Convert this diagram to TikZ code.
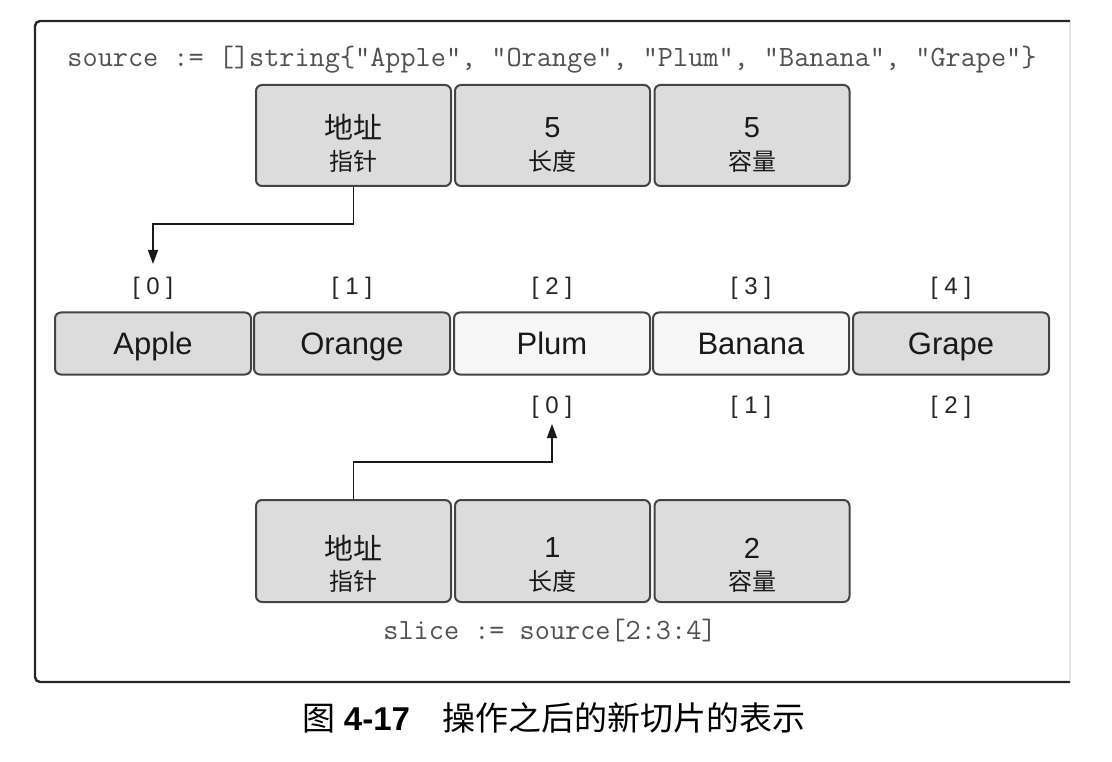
\documentclass[tikz,border=0pt]{standalone}
\usepackage{fontspec}
\setmainfont{Liberation Sans}
\newfontfamily\cjk{Noto Sans CJK SC}
\usetikzlibrary{arrows.meta}
\definecolor{boxfill}{RGB}{220,220,220}
\definecolor{lightfill}{RGB}{246,246,246}
\definecolor{boxline}{RGB}{68,68,68}
\definecolor{codegray}{RGB}{80,80,80}
\begin{document}
\begin{tikzpicture}[x=1pt,y=-1pt,
  cell/.style={draw=boxline, line width=2pt, rounded corners=6pt, fill=boxfill,
    minimum width=196pt, minimum height=62pt, inner sep=0pt,
    text height=25pt, text depth=2pt,
    font=\fontsize{31}{36}\selectfont, text=black!90},
  lightcell/.style={cell, fill=lightfill},
  hdrbox/.style={draw=boxline, line width=2pt, rounded corners=6pt, fill=boxfill,
    minimum width=195pt, minimum height=101pt, inner sep=0pt},
  bigtxt/.style={font=\fontsize{29}{34}\selectfont, text=black!90, inner sep=0pt, anchor=center},
  cjksmall/.style={font=\cjk\fontsize{24}{28}\selectfont, text=black!90, inner sep=0pt},
  idxlbl/.style={font=\fontsize{24}{28}\selectfont, text=black!85, inner sep=0pt},
  codetext/.style={font=\ttfamily\fontsize{29.4}{33}\selectfont, text=codegray, inner sep=0pt},
  ptr/.style={line width=1.5pt, draw=black!90, -{Triangle[length=14pt,width=10pt]}}
]
\useasboundingbox (0,0) rectangle (1112,762);

% frame
\draw[line width=2.4pt, black!85, rounded corners=5pt] (1070,21) -- (35,21) -- (35,682) -- (1070,682);
\draw[line width=1.4pt, black!10] (1070,22) -- (1070,681);

% source code line
\node[codetext] (src) at (552,60) {source := []string\{"Apple", "Orange", "Plum", "Banana", "Grape"\}};

% top header boxes
\node[hdrbox] (t1) at (353.5,135.5) {};
\node[hdrbox] (t2) at (552.5,135.5) {};
\node[hdrbox] (t3) at (752,135.5) {};
\node[bigtxt, yshift=8pt] (t1a) at (t1.center) {{\cjk 地址}};
\node[cjksmall, yshift=-26pt] (t1b) at (t1.center) {指针};
\node[bigtxt, yshift=8pt] (t2a) at (t2.center) {5};
\node[cjksmall, yshift=-26pt] (t2b) at (t2.center) {长度};
\node[bigtxt, yshift=8pt] (t3a) at (t3.center) {5};
\node[cjksmall, yshift=-26pt] (t3b) at (t3.center) {容量};

% indices above
\node[idxlbl] (i0) at (153,288) {[ 0 ]};
\node[idxlbl] (i1) at (352,288) {[ 1 ]};
\node[idxlbl] (i2) at (552,288) {[ 2 ]};
\node[idxlbl] (i3) at (751,288) {[ 3 ]};
\node[idxlbl] (i4) at (951,288) {[ 4 ]};

% array
\node[cell] (a0) at (153,343.5) {Apple};
\node[cell] (a1) at (352,343.5) {Orange};
\node[lightcell] (a2) at (552,343.5) {Plum};
\node[lightcell] (a3) at (751,343.5) {Banana};
\node[cell] (a4) at (951,343.5) {Grape};

% indices below
\node[idxlbl] (j0) at (552,407) {[ 0 ]};
\node[idxlbl] (j1) at (751,407) {[ 1 ]};
\node[idxlbl] (j2) at (951,407) {[ 2 ]};

% bottom header boxes
\node[hdrbox, minimum height=102pt] (b1) at (353.5,551) {};
\node[hdrbox, minimum height=102pt] (b2) at (552.5,551) {};
\node[hdrbox, minimum height=102pt] (b3) at (752,551) {};
\node[bigtxt, yshift=3pt] (b1a) at (b1.center) {{\cjk 地址}};
\node[cjksmall, yshift=-30pt] (b1b) at (b1.center) {指针};
\node[bigtxt, yshift=3pt] (b2a) at (b2.center) {1};
\node[cjksmall, yshift=-30pt] (b2b) at (b2.center) {长度};
\node[bigtxt, yshift=3pt] (b3a) at (b3.center) {2};
\node[cjksmall, yshift=-30pt] (b3b) at (b3.center) {容量};

\node[codetext] (sl) at (550,631) {slice := source[2:3:4]};

% pointers
\coordinate (p0) at (153,264);
\draw[ptr] (t1.south) -- ++(0,37) -| (p0);
\coordinate (p1) at (552,424);
\draw[ptr] (b1.north) -- ++(0,-37) -| (p1);

% caption
\node[font=\fontsize{33}{40}\selectfont, inner sep=0pt] (cap) at (554,718)
  {{\cjk 图}\hspace{8pt}\textbf{4-17}\hspace{32pt}{\cjk 操作之后的新切片的表示}};
\end{tikzpicture}
\end{document}
